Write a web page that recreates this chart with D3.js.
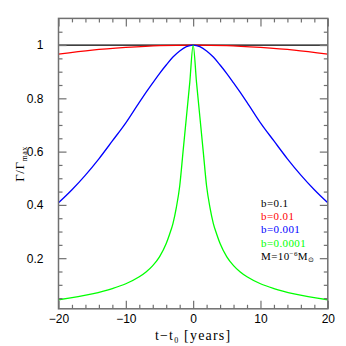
<!DOCTYPE html>
<html>
<head>
<meta charset="utf-8">
<script src="https://cdn.jsdelivr.net/npm/d3@7"></script>
<style>
html,body{margin:0;padding:0;background:#fff;}
svg{display:block;}
</style>
</head>
<body>
<svg id="chart" width="346" height="346"></svg>
<script>
// ---- data ----
const tGreen = [-20,-15,-12,-10,-8,-7,-6,-5,-4,-3.5,-3,-2.5,-2,-1.5,-1,-0.5,0,0.5,1,1.5,2,2.5,3,3.5,4,5,6,7,8,10,12,15,20];
const vGreen = [0.044,0.066,0.086,0.104,0.130,0.148,0.172,0.205,0.255,0.29,0.33,0.39,0.47,0.60,0.73,0.86,1.0,0.86,0.73,0.60,0.47,0.39,0.33,0.29,0.255,0.205,0.172,0.148,0.130,0.104,0.086,0.066,0.044];

const tBlue = [-20,-18,-16,-14,-12,-10,-8,-7,-6,-5,-4,-3,-2,-1,0,1,2,3,4,5,6,7,8,10,12,14,16,18,20];
const vBlue = [0.408,0.457,0.512,0.573,0.64,0.708,0.785,0.822,0.858,0.893,0.925,0.955,0.978,0.994,1.0,0.994,0.978,0.955,0.925,0.893,0.858,0.822,0.785,0.708,0.64,0.573,0.512,0.457,0.408];

const tRed = [-20,-15,-10,-5,0,5,10,15,20];
const vRed = [0.966,0.981,0.991,0.998,1.0,0.998,0.991,0.981,0.966];

const tBlack = [-20,-10,0,10,20];
const vBlack = [1.0,1.0,1.0,1.0,1.0];

const xTicks = [-20,-10,0,10,20];
const xTickLabels = ["\u221220","\u221210","0","10","20"];
const yTicks = [0.2,0.4,0.6,0.8,1];
const yTickLabels = ["0.2","0.4","0.6","0.8","1"];

const legendLabels = ["b=0.1","b=0.01","b=0.001","b=0.0001"];
const seriesColors = ["#000000","#ff0000","#0000ff","#00ff00"];

// ---- layout ----
const svg = d3.select("#chart");
const L = 58.5, R = 327.8, T = 18.4, B = 308.8;
const x = d3.scaleLinear().domain([-20,20]).range([L,R]);
const y = d3.scaleLinear().domain([0.01,1.1]).range([B,T]);
const frameColor = "#707070";

const plot = svg.append("g");
plot.append("defs").append("clipPath").attr("id","clip")
  .append("rect").attr("x",L).attr("y",T).attr("width",R-L).attr("height",B-T);

// curves
const series = [
  {t:tBlack, v:vBlack, c:seriesColors[0]},
  {t:tRed, v:vRed, c:seriesColors[1]},
  {t:tBlue, v:vBlue, c:seriesColors[2]},
  {t:tGreen, v:vGreen, c:seriesColors[3]}
];
const line = d3.line().x(d=>x(d[0])).y(d=>y(d[1])).curve(d3.curveMonotoneX);
const cg = plot.append("g").attr("clip-path","url(#clip)");
series.forEach(s=>{
  cg.append("path")
    .datum(s.t.map((t,i)=>[t,s.v[i]]))
    .attr("d",line)
    .attr("fill","none")
    .attr("stroke",s.c)
    .attr("stroke-width",1.3);
});

// axes with inward ticks
const xMinor = d3.range(-20,20.01,2).filter(v=>Math.abs(v%10)>1e-6);
const yMinor = d3.range(0.05,1.1,0.05).filter(v=>Math.abs(Math.round(v*100)%20)>1e-6);

function addAxis(axisGen, transform){
  const g = svg.append("g").attr("transform",transform).call(axisGen);
  g.select(".domain").remove();
  g.selectAll("line").attr("stroke",frameColor).attr("stroke-width",1.2);
  return g;
}
// bottom
addAxis(d3.axisBottom(x).tickValues(xMinor).tickSize(-4).tickFormat(""), `translate(0,${B})`);
const xb = addAxis(d3.axisBottom(x).tickValues(xTicks).tickSize(-8).tickPadding(14).tickFormat((d,i)=>xTickLabels[i]), `translate(0,${B})`);
// top
addAxis(d3.axisTop(x).tickValues(xMinor).tickSize(-4).tickFormat(""), `translate(0,${T})`);
addAxis(d3.axisTop(x).tickValues(xTicks).tickSize(-8).tickFormat(""), `translate(0,${T})`);
// left
addAxis(d3.axisLeft(y).tickValues(yMinor).tickSize(-4).tickFormat(""), `translate(${L},0)`);
const yl = addAxis(d3.axisLeft(y).tickValues(yTicks).tickSize(-8).tickPadding(15).tickFormat((d,i)=>yTickLabels[i]), `translate(${L},0)`);
// right
addAxis(d3.axisRight(y).tickValues(yMinor).tickSize(-4).tickFormat(""), `translate(${R},0)`);
addAxis(d3.axisRight(y).tickValues(yTicks).tickSize(-8).tickFormat(""), `translate(${R},0)`);

[xb,yl].forEach(g=>g.selectAll("text")
  .attr("font-family","'Liberation Sans', Arial, sans-serif")
  .attr("font-size","12px").attr("fill","#000"));
xb.selectAll("text").attr("dy","0.35em").attr("y",10);

// frame
svg.append("rect").attr("x",L).attr("y",T).attr("width",R-L).attr("height",B-T)
  .attr("fill","none").attr("stroke",frameColor).attr("stroke-width",1.5);

// axis titles
const xt = svg.append("text").attr("x",(L+R)/2).attr("y",340)
  .attr("text-anchor","middle")
  .attr("font-family","'Liberation Serif', 'Times New Roman', serif")
  .attr("font-size","14px").attr("letter-spacing","1.2px").attr("fill","#000");
xt.append("tspan").text("t\u2212t");
xt.append("tspan").attr("font-size","8px").attr("dy","3").text("0");
xt.append("tspan").attr("dy","-3").text(" [years]");

const yt = svg.append("text").attr("transform","translate(24,164) rotate(-90)")
  .attr("text-anchor","middle")
  .attr("font-family","'Liberation Serif', 'Times New Roman', serif")
  .attr("font-size","13px").attr("letter-spacing","0.5px").attr("fill","#000");
yt.append("tspan").text("\u0393/\u0393");
yt.append("tspan").attr("font-size","8px").attr("dy","3").text("max");

// legend
const legX = 261, legY0 = 207, legDy = 13.2;
const lg = svg.append("g")
  .attr("font-family","'Liberation Serif', 'Times New Roman', serif")
  .attr("font-size","11px").attr("letter-spacing","0.4px");
legendLabels.forEach((lab,i)=>{
  lg.append("text").attr("x",legX).attr("y",legY0+i*legDy).attr("fill",seriesColors[i]).text(lab);
});
const mt = lg.append("text").attr("x",legX).attr("y",legY0+4*legDy).attr("fill","#000");
mt.append("tspan").text("M=10");
mt.append("tspan").attr("font-size","7px").attr("dy","-4").text("\u22126");
mt.append("tspan").attr("dy","4").text("M");
mt.append("tspan").attr("font-size","7px").attr("dy","2").text("\u2299");
</script>
</body>
</html>
